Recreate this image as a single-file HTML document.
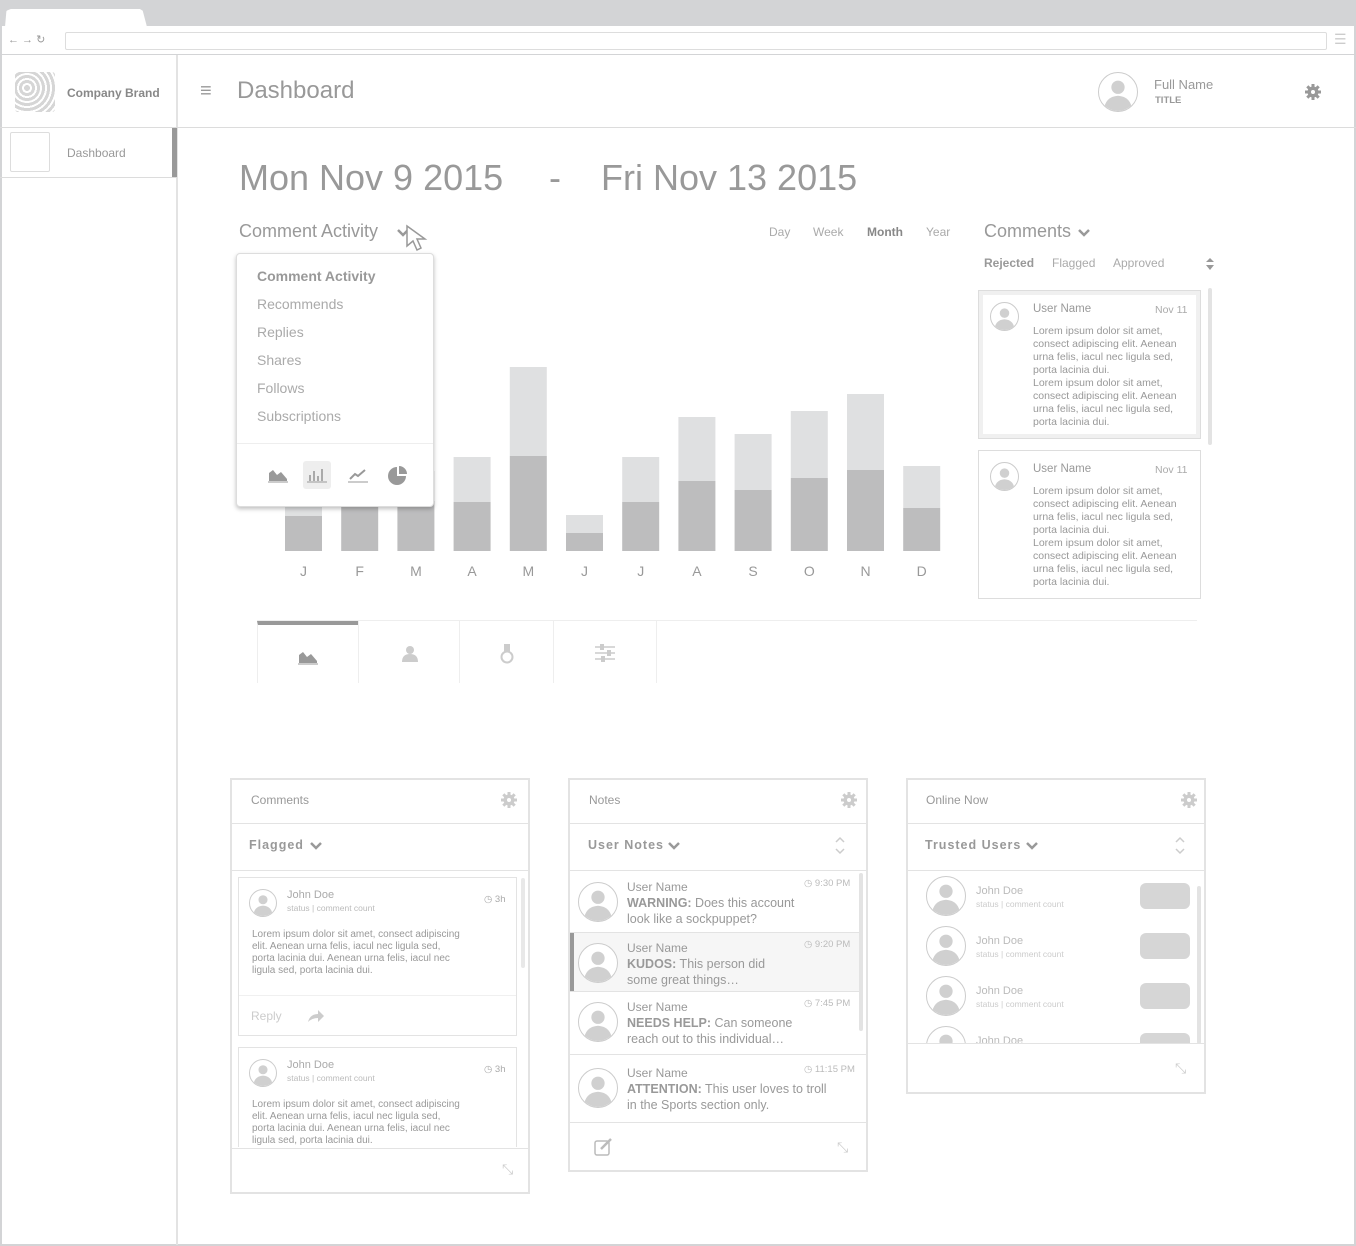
<!DOCTYPE html>
<html><head><meta charset="utf-8">
<style>
*{box-sizing:border-box;margin:0;padding:0}
body{width:1356px;height:1246px;position:relative;background:#fff;font-family:"Liberation Sans",Arial,sans-serif;color:#999;overflow:hidden}
.a{position:absolute}
.t{position:absolute;white-space:nowrap}
.av{position:absolute;border-radius:50%;border:1px solid #ccc;background:#fff;overflow:hidden}
.av svg{width:100%;height:100%;display:block}
.panel{position:absolute;border:2px solid #e3e3e3;background:#fff}
.hl{position:absolute;left:0;right:0;height:1px;background:#e3e3e3}
.lorem{position:absolute;font-size:10.5px;line-height:13px;color:#999;white-space:normal}
.gear{position:absolute;width:16px;height:16px}
</style></head><body>
<!-- browser chrome -->
<div class="a" style="left:0;top:0;width:1356px;height:26px;background:#d3d4d6"></div>
<div class="a" style="left:5px;top:9px;width:142px;height:18px;background:#fff;border-radius:6px 6px 0 0;clip-path:polygon(0 100%,1% 10%,4% 0,95% 0,97% 10%,100% 100%)"></div>
<div class="a" style="left:0;top:26px;width:1356px;height:1220px;border:2px solid #d3d4d6;border-top:none"></div>
<div class="t" style="left:8px;top:33px;font-size:11px;color:#999">← → ↻</div>
<div class="a" style="left:65px;top:32px;width:1262px;height:18px;border:1px solid #ddd;border-radius:2px"></div>
<div class="t" style="left:1334px;top:31px;font-size:14px;color:#ccc">☰</div>
<div class="a" style="left:0;top:54px;width:1356px;height:1px;background:#d3d4d6"></div>
<!-- sidebar -->
<div class="a" style="left:176px;top:55px;width:2px;height:1190px;background:#e3e3e3"></div>
<div class="a" style="left:15px;top:72px;width:40px;height:40px;background:#d6d6d6;border-radius:3px;background-image:repeating-radial-gradient(circle at 30% 40%,#d6d6d6 0 3px,#fff 3px 5px)"></div>
<div class="t" style="left:67px;top:86px;font-size:12px;font-weight:bold;color:#888">Company Brand</div>
<div class="a" style="left:0;top:127px;width:1356px;height:1px;background:#dcdcdc"></div>
<div class="a" style="left:0;top:177px;width:177px;height:1px;background:#dcdcdc"></div>
<div class="a" style="left:10px;top:132px;width:40px;height:40px;border:1px solid #ddd;border-radius:2px"></div>
<div class="t" style="left:67px;top:146px;font-size:12px;color:#999">Dashboard</div>
<div class="a" style="left:172px;top:128px;width:5px;height:49px;background:#999"></div>
<!-- header -->
<div class="t" style="left:200px;top:80px;font-size:20px;color:#999">≡</div>
<div class="t" style="left:237px;top:77px;font-size:24px;color:#999">Dashboard</div>
<div class="av" style="left:1098px;top:72px;width:40px;height:40px"></div>
<div class="t" style="left:1154px;top:77px;font-size:13px;color:#999">Full Name</div>
<div class="t" style="left:1155px;top:95px;font-size:9.5px;font-weight:bold;color:#999">TITLE</div>
<svg class="gear" style="left:1305px;top:84px" viewBox="0 0 16 16"><circle cx="8" cy="8" r="5.5" fill="#999"/><g stroke="#999" stroke-width="3"><line x1="8" y1="0" x2="8" y2="16"/><line x1="0" y1="8" x2="16" y2="8"/><line x1="2.3" y1="2.3" x2="13.7" y2="13.7"/><line x1="13.7" y1="2.3" x2="2.3" y2="13.7"/></g><circle cx="8" cy="8" r="2" fill="#fff"/></svg>
<!-- date range -->
<div class="t" style="left:239px;top:157px;font-size:36px;color:#999">Mon Nov 9 2015</div>
<div class="t" style="left:549px;top:157px;font-size:36px;color:#999">-</div>
<div class="t" style="left:601px;top:157px;font-size:36px;color:#999">Fri Nov 13 2015</div>
<!-- chart header -->
<div class="t" style="left:239px;top:221px;font-size:18px;color:#999">Comment Activity</div>
<svg class="a" style="left:396px;top:228px" width="14" height="10"><polyline points="2,2 7,7 12,2" fill="none" stroke="#999" stroke-width="2.5"/></svg>
<svg class="a" style="left:405px;top:224px" width="26" height="30"><polygon points="2,2 2,22 8,17 12,26 16,24 12,15 20,15" fill="#fff" stroke="#999" stroke-width="1.5"/></svg>
<div class="t" style="left:769px;top:225px;font-size:12px;color:#aaa">Day</div>
<div class="t" style="left:813px;top:225px;font-size:12px;color:#aaa">Week</div>
<div class="t" style="left:867px;top:225px;font-size:12px;color:#888;font-weight:bold">Month</div>
<div class="t" style="left:926px;top:225px;font-size:12px;color:#aaa">Year</div>
<!-- chart -->
<svg id="chart" class="a" style="left:270px;top:340px" width="690" height="250"></svg>
<!-- popup -->
<div class="a" style="left:236px;top:253px;width:198px;height:254px;background:#fff;border:1px solid #ddd;border-radius:4px;box-shadow:0 2px 4px rgba(0,0,0,.25)">
 <div class="t" style="left:20px;top:14px;font-size:14px;font-weight:bold;color:#999">Comment Activity</div>
 <div class="t" style="left:20px;top:42px;font-size:14px;color:#aaa">Recommends</div>
 <div class="t" style="left:20px;top:70px;font-size:14px;color:#aaa">Replies</div>
 <div class="t" style="left:20px;top:98px;font-size:14px;color:#aaa">Shares</div>
 <div class="t" style="left:20px;top:126px;font-size:14px;color:#aaa">Follows</div>
 <div class="t" style="left:20px;top:154px;font-size:14px;color:#aaa">Subscriptions</div>
 <div class="a" style="left:0;top:189px;width:196px;height:1px;background:#eee"></div>
 <svg class="a" style="left:31px;top:213px" width="20" height="16"><polygon points="1,14 1,6 5,3 9,8 13,5 19,12 19,14" fill="#999"/><line x1="0" y1="15" x2="20" y2="15" stroke="#999"/></svg>
 <div class="a" style="left:66px;top:207px;width:28px;height:28px;background:#eee;border-radius:3px"><svg style="position:absolute;left:4px;top:6px" width="20" height="16"><g stroke="#999" stroke-width="1.6"><line x1="3" y1="14" x2="3" y2="8"/><line x1="7" y1="14" x2="7" y2="4"/><line x1="11" y1="14" x2="11" y2="9"/><line x1="15" y1="14" x2="15" y2="2"/></g><line x1="0" y1="15" x2="20" y2="15" stroke="#999"/></svg></div>
 <svg class="a" style="left:111px;top:213px" width="20" height="16"><polyline points="2,12 7,7 10,9 17,3" fill="none" stroke="#999" stroke-width="2"/><line x1="0" y1="15" x2="20" y2="15" stroke="#999"/></svg>
 <svg class="a" style="left:151px;top:212px" width="20" height="20"><path d="M9,10 L9,1 A9,9 0 1 0 18,10 Z" fill="#999"/><path d="M11,8 L11,0 A8,8 0 0 1 19,8 Z" fill="#999"/></svg>
</div>
<!-- chart tabs -->
<div class="a" style="left:257px;top:620px;width:940px;height:1px;background:#eee"></div>
<div class="a" style="left:257px;top:621px;width:101px;height:62px;border-left:1px solid #eee;border-top:4px solid #999"><svg style="position:absolute;left:40px;top:24px" width="20" height="16"><polygon points="1,14 1,6 5,3 9,8 13,5 19,12 19,14" fill="#999"/><line x1="0" y1="15" x2="20" y2="15" stroke="#999"/></svg></div>
<div class="a" style="left:358px;top:621px;width:101px;height:62px;border-left:1px solid #eee"><svg style="position:absolute;left:42px;top:24px" width="18" height="18"><circle cx="9" cy="5" r="4" fill="#ccc"/><path d="M1,17 Q1,9 9,9 Q17,9 17,17 Z" fill="#ccc"/></svg></div>
<div class="a" style="left:459px;top:621px;width:94px;height:62px;border-left:1px solid #eee"><svg style="position:absolute;left:40px;top:22px" width="14" height="22"><rect x="4" y="1" width="6" height="8" fill="#ccc"/><circle cx="7" cy="14" r="5.5" fill="none" stroke="#ccc" stroke-width="2"/></svg></div>
<div class="a" style="left:553px;top:621px;width:104px;height:62px;border-left:1px solid #eee;border-right:1px solid #eee"><svg style="position:absolute;left:40px;top:22px" width="22" height="20"><g stroke="#ccc" stroke-width="1.5"><line x1="1" y1="4" x2="21" y2="4"/><line x1="1" y1="10" x2="21" y2="10"/><line x1="1" y1="16" x2="21" y2="16"/></g><rect x="6" y="1" width="4" height="6" fill="#ccc"/><rect x="13" y="7" width="4" height="6" fill="#ccc"/><rect x="7" y="13" width="4" height="6" fill="#ccc"/></svg></div>
<!-- right comments -->
<div class="t" style="left:984px;top:221px;font-size:18px;color:#999">Comments</div>
<svg class="a" style="left:1077px;top:228px" width="14" height="10"><polyline points="2,2 7,7 12,2" fill="none" stroke="#999" stroke-width="2.5"/></svg>
<div class="t" style="left:984px;top:256px;font-size:12px;font-weight:bold;color:#999">Rejected</div>
<div class="t" style="left:1052px;top:256px;font-size:12px;color:#aaa">Flagged</div>
<div class="t" style="left:1113px;top:256px;font-size:12px;color:#aaa">Approved</div>
<svg class="a" style="left:1205px;top:257px" width="10" height="14"><polygon points="5,1 9,5 1,5" fill="#999"/><polygon points="5,13 9,8 1,8" fill="#999"/></svg>
<div class="a" style="left:1208px;top:288px;width:4px;height:157px;background:#e3e3e3;border-radius:2px"></div>
<div class="a" style="left:978px;top:290px;width:223px;height:149px;border:1px solid #ddd;box-shadow:inset 0 0 0 4px #f0f0f0"></div>
<div class="a" style="left:978px;top:450px;width:223px;height:149px;border:1px solid #ddd"></div>
<div id="rc"></div>
<!-- bottom panels -->
<div class="panel" style="left:230px;top:778px;width:300px;height:416px">
 <div class="t" style="left:19px;top:13px;font-size:12px;color:#999">Comments</div>
 <svg class="gear" style="left:269px;top:12px" viewBox="0 0 16 16"><circle cx="8" cy="8" r="5.5" fill="#ccc"/><g stroke="#ccc" stroke-width="3"><line x1="8" y1="0" x2="8" y2="16"/><line x1="0" y1="8" x2="16" y2="8"/><line x1="2.3" y1="2.3" x2="13.7" y2="13.7"/><line x1="13.7" y1="2.3" x2="2.3" y2="13.7"/></g><circle cx="8" cy="8" r="2" fill="#fff"/></svg>
 <div class="hl" style="top:43px"></div>
 <div class="t" style="left:17px;top:58px;font-size:12.5px;font-weight:bold;letter-spacing:1px;color:#999">Flagged</div>
 <svg class="a" style="left:77px;top:61px" width="14" height="10"><polyline points="2,2 7,7 12,2" fill="none" stroke="#999" stroke-width="2.5"/></svg>
 <div class="hl" style="top:90px"></div>
 <div class="a" style="left:289px;top:98px;width:4px;height:90px;background:#e8e8e8;border-radius:2px"></div>
 <div class="a" style="left:6px;top:97px;width:279px;height:159px;border:1px solid #e3e3e3">
  <div class="a" style="left:0;top:117px;width:277px;height:1px;background:#f0f0f0"></div>
  <div class="t" style="left:12px;top:131px;font-size:12px;color:#ccc">Reply</div>
  <svg class="a" style="left:68px;top:131px" width="18" height="14"><path d="M1,13 Q3,5 11,5 L11,1 L17,7 L11,13 L11,9 Q5,9 1,13 Z" fill="#ccc"/></svg>
 </div>
 <div class="a" style="left:6px;top:267px;width:279px;height:100px;border:1px solid #e3e3e3;border-bottom:none"></div>
 <div class="hl" style="top:368px"></div>
 <div class="t" style="left:270px;top:381px;font-size:14px;color:#ccc">⤡</div>
</div>
<div class="panel" style="left:568px;top:778px;width:300px;height:394px">
 <div class="t" style="left:19px;top:13px;font-size:12px;color:#999">Notes</div>
 <svg class="gear" style="left:271px;top:12px" viewBox="0 0 16 16"><circle cx="8" cy="8" r="5.5" fill="#ccc"/><g stroke="#ccc" stroke-width="3"><line x1="8" y1="0" x2="8" y2="16"/><line x1="0" y1="8" x2="16" y2="8"/><line x1="2.3" y1="2.3" x2="13.7" y2="13.7"/><line x1="13.7" y1="2.3" x2="2.3" y2="13.7"/></g><circle cx="8" cy="8" r="2" fill="#fff"/></svg>
 <div class="hl" style="top:43px"></div>
 <div class="t" style="left:18px;top:58px;font-size:12.5px;font-weight:bold;letter-spacing:1px;color:#999">User Notes</div>
 <svg class="a" style="left:97px;top:61px" width="14" height="10"><polyline points="2,2 7,7 12,2" fill="none" stroke="#999" stroke-width="2.5"/></svg>
 <svg class="a" style="left:264px;top:55px" width="12" height="22"><polyline points="2,7 6,3 10,7" fill="none" stroke="#ccc" stroke-width="1.5"/><polyline points="2,14 6,18 10,14" fill="none" stroke="#ccc" stroke-width="1.5"/></svg>
 <div class="hl" style="top:90px"></div>
 <div class="a" style="left:0;top:153px;width:289px;height:58px;background:#f6f6f6;border-left:4px solid #999"></div>
 <div class="hl" style="top:152px;right:7px"></div>
 <div class="hl" style="top:211px;right:7px"></div>
 <div class="hl" style="top:274px"></div>
 <div class="hl" style="top:342px"></div>
 <div class="a" style="left:289px;top:93px;width:4px;height:158px;background:#e3e3e3;border-radius:2px"></div>
 <svg class="a" style="left:24px;top:358px" width="20" height="18"><rect x="1" y="3" width="14" height="14" rx="2" fill="none" stroke="#bbb" stroke-width="1.5"/><line x1="7" y1="11" x2="17" y2="1" stroke="#bbb" stroke-width="2.5"/></svg>
 <div class="t" style="left:267px;top:359px;font-size:14px;color:#ccc">⤡</div>
</div>
<div class="panel" style="left:906px;top:778px;width:300px;height:316px">
 <div class="t" style="left:18px;top:13px;font-size:12px;color:#999">Online Now</div>
 <svg class="gear" style="left:273px;top:12px" viewBox="0 0 16 16"><circle cx="8" cy="8" r="5.5" fill="#ccc"/><g stroke="#ccc" stroke-width="3"><line x1="8" y1="0" x2="8" y2="16"/><line x1="0" y1="8" x2="16" y2="8"/><line x1="2.3" y1="2.3" x2="13.7" y2="13.7"/><line x1="13.7" y1="2.3" x2="2.3" y2="13.7"/></g><circle cx="8" cy="8" r="2" fill="#fff"/></svg>
 <div class="hl" style="top:43px"></div>
 <div class="t" style="left:17px;top:58px;font-size:12.5px;font-weight:bold;letter-spacing:1px;color:#999">Trusted Users</div>
 <svg class="a" style="left:117px;top:61px" width="14" height="10"><polyline points="2,2 7,7 12,2" fill="none" stroke="#999" stroke-width="2.5"/></svg>
 <svg class="a" style="left:266px;top:55px" width="12" height="22"><polyline points="2,7 6,3 10,7" fill="none" stroke="#ccc" stroke-width="1.5"/><polyline points="2,14 6,18 10,14" fill="none" stroke="#ccc" stroke-width="1.5"/></svg>
 <div class="hl" style="top:90px"></div>
 <div id="ol" class="a" style="left:0;top:91px;width:296px;height:172px;overflow:hidden"></div>
 <div class="a" style="left:289px;top:106px;width:4px;height:158px;background:#e3e3e3;border-radius:2px"></div>
 <div class="hl" style="top:263px"></div>
 <div class="t" style="left:267px;top:280px;font-size:14px;color:#ccc">⤡</div>
</div>
<div id="dyn"></div>
<script>
const months=['J','F','M','A','M','J','J','A','S','O','N','D'];
const darkVals=[17.5,25,25,24.5,47.5,9,24.5,35,30.5,36.5,40.5,21.5];
const lightVals=[18,15,15,22.5,44.5,9,22.5,32,28,33.5,38,21];
const NS='http://www.w3.org/2000/svg';
const chart=document.getElementById('chart');
const baseY=211, pxPerUnit=2, step=56.2, x0=15, bw=37;
function xs(i){return x0+i*step;}
function ys(v){return baseY-v*pxPerUnit;}
months.forEach((m,i)=>{
  const d=darkVals[i], l=lightVals[i];
  const lr=document.createElementNS(NS,'rect');
  lr.setAttribute('x',xs(i));lr.setAttribute('y',ys(d+l));lr.setAttribute('width',bw);lr.setAttribute('height',l*pxPerUnit);lr.setAttribute('fill','#dfe0e1');
  
  
  chart.appendChild(lr);
  const dr=document.createElementNS(NS,'rect');
  dr.setAttribute('x',xs(i));dr.setAttribute('y',ys(d));dr.setAttribute('width',bw);dr.setAttribute('height',d*pxPerUnit);dr.setAttribute('fill','#bdbdbe');
  
  
  chart.appendChild(dr);
  const tx=document.createElementNS(NS,'text');
  tx.setAttribute('x',xs(i)+bw/2);tx.setAttribute('y',236);tx.setAttribute('text-anchor','middle');tx.setAttribute('font-size','14');tx.setAttribute('fill','#999');tx.setAttribute('font-family','Liberation Sans, sans-serif');
  tx.textContent=m;
  
  
  chart.appendChild(tx);
});
const AV='<svg viewBox="0 0 40 40"><circle cx="20" cy="15" r="7" fill="#d0d0d0"/><path d="M5,40 Q6,25 20,24 Q34,25 35,40 Z" fill="#d0d0d0"/></svg>';
document.querySelectorAll('.av').forEach(e=>e.innerHTML=AV);
const dyn=document.getElementById('dyn');
function av(x,y,s,name){const e=document.createElement('div');e.className='av';e.style.cssText=`left:${x}px;top:${y}px;width:${s}px;height:${s}px`;e.innerHTML=AV;


return e;}
function txt(x,y,html,css,name){const e=document.createElement('div');e.className='t';e.style.cssText=`left:${x}px;top:${y}px;`+css;e.innerHTML=html;


return e;}
const lor='Lorem ipsum dolor sit amet,<br>consect adipiscing elit. Aenean<br>urna felis, iacul nec ligula sed,<br>porta lacinia dui.<br>Lorem ipsum dolor sit amet,<br>consect adipiscing elit. Aenean<br>urna felis, iacul nec ligula sed,<br>porta lacinia dui.';
[300,460].forEach(y=>{
  dyn.appendChild(av(990,y+2,29,'comment-avatar'));
  dyn.appendChild(txt(1033,y+3,'User Name','font-size:11.5px;color:#999','comment-user-name'));
  dyn.appendChild(txt(1155,y+4,'Nov 11','font-size:10.5px;color:#aaa','comment-date'));
  dyn.appendChild(txt(1033,y+25,lor,'font-size:10.5px;line-height:13px;color:#999','comment-text'));
});
const lor2='Lorem ipsum dolor sit amet, consect adipiscing<br>elit. Aenean urna felis, iacul nec ligula sed,<br>porta lacinia dui. Aenean urna felis, iacul nec<br>ligula sed, porta lacinia dui.';
[{y:887,h:0},{y:1057,h:1}].forEach(o=>{
  dyn.appendChild(av(249,o.y+2,28,'flagged-avatar'));
  dyn.appendChild(txt(287,o.y+2,'John Doe','font-size:11px;color:#aaa','flagged-user-name'));
  dyn.appendChild(txt(287,o.y+16,'status | comment count','font-size:8.5px;color:#bbb','flagged-user-status'));
  dyn.appendChild(txt(484,o.y+7,'◷ 3h','font-size:9.5px;color:#aaa','flagged-time'));
  const t=txt(252,o.y+42,lor2,'font-size:10px;line-height:12px;color:#999','flagged-text');
  if(o.h){t.style.height='57px';t.style.overflow='hidden';}
  dyn.appendChild(t);
});
const noteTimes=['9:30 PM','9:20 PM','7:45 PM','11:15 PM'];
const noteTags=['WARNING:','KUDOS:','NEEDS HELP:','ATTENTION:'];
const noteBody=[' Does this account<br>look like a sockpuppet?',' This person did<br>some great things…',' Can someone<br>reach out to this individual…',' This user loves to troll<br>in the Sports section only.'];
const noteY=[879,940,999,1065];
noteY.forEach((y,i)=>{
  dyn.appendChild(av(578,y+3,40,'note-avatar'));
  dyn.appendChild(txt(627,y+1,'User Name','font-size:12px;color:#999','note-user-name'));
  dyn.appendChild(txt(627,y+16,'<b>'+noteTags[i]+'</b>'+noteBody[i],'font-size:12.5px;line-height:16px;color:#999','note-text'));
  dyn.appendChild(txt(804,y-1,'◷ '+noteTimes[i],'font-size:9.5px;color:#bbb','note-time'));
});
const ol=document.getElementById('ol');
[5,55,105,155].forEach(y=>{
  ol.appendChild(av(18,y,40,'online-avatar'));
  ol.appendChild(txt(68,y+9,'John Doe','font-size:11px;color:#bbb','online-user-name'));
  ol.appendChild(txt(68,y+23,'status | comment count','font-size:8.5px;color:#ccc','online-user-status'));
  const b=document.createElement('div');b.className='a';b.style.cssText=`left:232px;top:${y+7}px;width:50px;height:26px;background:#d6d6d6;border-radius:6px`;
  
  
  ol.appendChild(b);
});
</script>
</body></html>
